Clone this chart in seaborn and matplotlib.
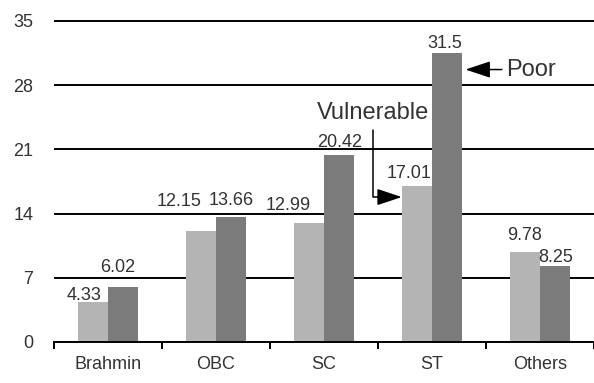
import matplotlib
matplotlib.use("Agg")
import matplotlib.pyplot as plt
import seaborn as sns
import pandas as pd

# data
castes = ["Brahmin", "OBC", "SC", "ST", "Others"]
vulnerable = [4.33, 12.15, 12.99, 17.01, 9.78]
poor = [6.02, 13.66, 20.42, 31.5, 8.25]
y_ticks = [0, 7, 14, 21, 28, 35]

# label nudges in pixels (dx, dy) so they sit like the original
light_off = [(-9, 2), (-22, 25), (-21, 13), (-8, 8), (0, 12)]
dark_off = [(-5, 15), (0, 12), (1, 8), (-2, 5), (1, 4)]

df = pd.DataFrame({
    "caste": castes * 2,
    "share": vulnerable + poor,
    "group": ["Vulnerable"] * len(castes) + ["Poor"] * len(castes),
})

sns.set_style("white")
fonts = ["Liberation Sans", "DejaVu Sans"]
plt.rcParams["font.family"] = fonts
text_col = "#333333"

fig = plt.figure(figsize=(5.94, 3.83), dpi=100)
ax = fig.add_axes([54 / 594, 41 / 383, 540 / 594, 322 / 383])

sns.barplot(
    data=df, x="caste", y="share", hue="group",
    palette=["#b4b4b4", "#7b7b7b"], width=0.56, gap=0,
    saturation=1, legend=False, linewidth=0, ax=ax, zorder=2,
)

ax.set_xlim(-0.5, -0.5 + 540 / 109.5)
ax.set_ylim(0, 35.1)
ax.set_yticks(y_ticks)
ax.yaxis.grid(True, color="black", lw=1.4)
ax.set_axisbelow(True)
ax.set_xlabel("")
ax.set_ylabel("")

for s in ["left", "top", "right"]:
    ax.spines[s].set_visible(False)
ax.spines["bottom"].set_color("black")
ax.spines["bottom"].set_linewidth(1.4)

ax.set_xticks([i - 0.5 for i in range(len(castes) + 1)], minor=True)
ax.tick_params(axis="x", which="minor", bottom=True, length=5, width=1.4,
               direction="out", color="black")
ax.tick_params(axis="x", which="major", length=0, pad=10, labelsize=13,
               labelcolor=text_col)
ax.tick_params(axis="y", length=0, pad=15, labelsize=13, labelcolor=text_col)

# value labels
for cont, vals, offs in zip(ax.containers, [vulnerable, poor], [light_off, dark_off]):
    for bar, v, (dx, dy) in zip(cont.patches, vals, offs):
        ax.annotate(f"{v:g}", (bar.get_x() + bar.get_width() / 2, bar.get_height()),
                    xytext=(dx, dy), textcoords="offset pixels",
                    ha="center", va="baseline", fontsize=13, color=text_col)

# callouts
st_light = ax.containers[0].patches[3]
st_dark = ax.containers[1].patches[3]
ax.annotate("Vulnerable", xy=(st_light.get_x(), 15.8), xytext=(2.45, 25.0),
            ha="center", va="center", fontsize=17, color=text_col,
            arrowprops=dict(arrowstyle="-|>,head_length=0.9,head_width=0.3",
                            color="black", lw=1.1, shrinkA=2, shrinkB=0,
                            connectionstyle="angle,angleA=90,angleB=0,rad=0"))
ax.annotate("Poor", xy=(st_dark.get_x() + st_dark.get_width() + 0.03, 29.7),
            xytext=(3.69, 29.7), ha="left", va="center", fontsize=17,
            color=text_col,
            arrowprops=dict(arrowstyle="-|>,head_length=0.9,head_width=0.3",
                            color="black", lw=1.1, shrinkA=1, shrinkB=0))

fig.savefig("out.png", dpi=100)
